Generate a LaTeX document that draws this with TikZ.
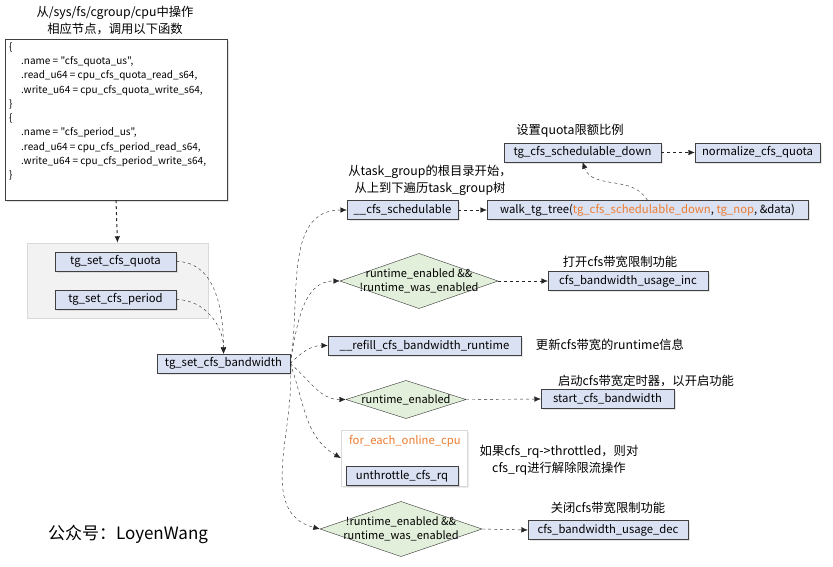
\documentclass[tikz,border=0pt]{standalone}
\usepackage{fontspec}
\setmainfont{Noto Sans CJK SC}
\setmonofont{Noto Sans CJK SC}
\usetikzlibrary{shadows,arrows.meta}

\begin{document}
\begin{tikzpicture}[
            >={Latex[length=6.5pt,width=5.5pt]},
            x=1pt, y=-1pt,
            font=\fontsize{11.3}{13}\selectfont,
            func/.style={rectangle, draw=black!75, fill=funcblue, minimum height=19, inner sep=2pt,
                drop shadow={opacity=0.2, shadow xshift=1.5pt, shadow yshift=-1.5pt}},
            cond/.style={rectangle, minimum width=158, minimum height=55, inner sep=0pt, align=center,
                font=\fontsize{11}{14}\selectfont,
                path picture={\draw[fill=condgreen, draw=black!80] (path picture bounding box.west) -- (path picture bounding box.north) -- (path picture bounding box.east) -- (path picture bounding box.south) -- cycle;}},
            call/.style={->, dashed, black!85},
            note/.style={align=center, font=\fontsize{12.3}{17}\selectfont}
        ]
		\definecolor{funcblue}{HTML}{DAE1F3}
		\definecolor{condgreen}{HTML}{E2EFDA}
		\definecolor{orng}{HTML}{ED7D31}
		\useasboundingbox (0,0) rectangle (833,566);
		
		%Cgroup interface
		
		\node[note] (cgtitle) at (115,20) {从/sys/fs/cgroup/cpu中操作\\相应节点，调用以下函数};
		\node[rectangle, draw=black!75, fill=white, minimum width=222, minimum height=161,
		      drop shadow={opacity=0.25, shadow xshift=1.5pt, shadow yshift=-1.5pt}] (code) at (116,119.5) {};
		\node[anchor=north west, align=left, inner sep=0pt, font=\ttfamily\fontsize{10}{14.3}\selectfont] (codetext) at (9,42) {%
		    \{\\
		    \hspace*{12pt}.name = "cfs\_quota\_us",\\
		    \hspace*{12pt}.read\_u64 = cpu\_cfs\_quota\_read\_s64,\\
		    \hspace*{12pt}.write\_u64 = cpu\_cfs\_quota\_write\_s64,\\
		    \}\\
		    \{\\
		    \hspace*{12pt}.name = "cfs\_period\_us",\\
		    \hspace*{12pt}.read\_u64 = cpu\_cfs\_period\_read\_s64,\\
		    \hspace*{12pt}.write\_u64 = cpu\_cfs\_period\_write\_s64,\\
		    \}};
		
		%Entry points
		
		\node[rectangle, draw=black!15, fill=black!5, minimum width=181, minimum height=75] (setbox) at (117.5,280.5) {};
		\node[func, minimum width=121] (quota) at (115.5,261.5) {tg\_set\_cfs\_quota};
		\node[func, minimum width=121] (period) at (115.5,299.5) {tg\_set\_cfs\_period};
		\node[func, minimum width=133] (bw) at (223.5,363.5) {tg\_set\_cfs\_bandwidth};
		
		%Callees
		
		\node[func, minimum width=111] (sched) at (402.5,210) {\_\_cfs\_schedulable};
		\node[func, minimum width=321] (walk) at (647.5,210) {walk\_tg\_tree(\textcolor{orng}{tg\_cfs\_schedulable\_down}, \textcolor{orng}{tg\_nop}, \&data)};
		\node[func, minimum width=157] (tgdown) at (582.5,152.5) {tg\_cfs\_schedulable\_down};
		\node[func, minimum width=125] (normq) at (757.5,152.5) {normalize\_cfs\_quota};
		
		\node[cond] (enable) at (419,281) {runtime\_enabled \&\&\\!runtime\_was\_enabled};
		\node[func, minimum width=160] (usageinc) at (628,281) {cfs\_bandwidth\_usage\_inc};
		
		\node[func, minimum width=193] (refill) at (424.5,345.5) {\_\_refill\_cfs\_bandwidth\_runtime};
		
		\node[cond, minimum width=120, minimum height=38] (running) at (406,399.5) {runtime\_enabled};
		\node[func, minimum width=133] (startbw) at (607.5,399) {start\_cfs\_bandwidth};
		
		\node[rectangle, draw=black!15, fill=white, minimum width=126, minimum height=56,
		      drop shadow={opacity=0.15, shadow xshift=1.5pt, shadow yshift=-1.5pt}] (cpuloop) at (404,458) {};
		\node[text=orng] (looplabel) at (405,441) {for\_each\_online\_cpu};
		\node[func, minimum width=112] (unthrottle) at (402,476) {unthrottle\_cfs\_rq};
		
		\node[cond, minimum width=162] (disable) at (401,529) {!runtime\_enabled \&\&\\runtime\_was\_enabled};
		\node[func, minimum width=160] (usagedec) at (608,530) {cfs\_bandwidth\_usage\_dec};
		
		%Notes
		
		\node[note] (quotanote) at (570,131) {设置quota限额比例};
		\node[note] (walknote) at (430,180) {从task\_group的根目录开始，\\从上到下遍历task\_group树};
		\node[note] (incnote) at (620,262) {打开cfs带宽限制功能};
		\node[note] (refillnote) at (610,345) {更新cfs带宽的runtime信息};
		\node[note] (startnote) at (646,381) {启动cfs带宽定时器，以开启功能};
		\node[note] (unthrnote) at (559,460) {如果cfs\_rq->throttled，则对\\cfs\_rq进行解除限流操作};
		\node[note] (decnote) at (608,508) {关闭cfs带宽限制功能};
		\node[font=\fontsize{17}{20}\selectfont] (wechat) at (128,534) {公众号：LoyenWang};
		
		%Calls
		
		\draw[call, line width=1pt] (code.south) -- (setbox.north);
		\draw[call] (quota.east) to[out=0,in=90] (bw.north);
		\draw[call] (period.east) to[out=0,in=90] (bw.north);
		
		\draw[call] (bw.east) to[out=80,in=180] (sched.west);
		\draw[call] (bw.east) to[out=80,in=180] (enable.west);
		\draw[call] (bw.east) to[out=45,in=180] (refill.west);
		\draw[call] (bw.east) to[out=-40,in=180] (running.west);
		\draw[call] (bw.east) to[out=-70,in=150] (cpuloop.west);
		\draw[call] (bw.east) to[out=-85,in=165] (disable.west);
		
		\draw[call] (sched.east) -- (walk.west);
		\draw[call] (walk.north) to[out=120,in=-70] (tgdown.south);
		\draw[call] (tgdown.east) -- (normq.west);
		\draw[call] (enable.east) -- (usageinc.west);
		\draw[call] (running.east) -- (startbw.west);
		\draw[call] (disable.east) -- (usagedec.west);
    \end{tikzpicture}
\end{document}
